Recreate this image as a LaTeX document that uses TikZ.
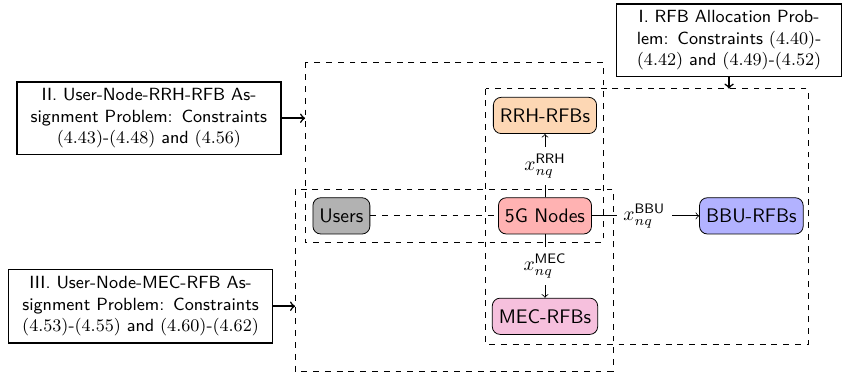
\documentclass[tikz,border=0pt]{standalone}
\renewcommand{\familydefault}{\sfdefault}
\definecolor{rrhcol}{HTML}{FDD7B4}
\definecolor{meccol}{HTML}{F6C0DD}
\begin{document}
\begin{tikzpicture}[
        block/.style={draw, rounded corners, minimum height=0.65cm},
        problem/.style={draw, thick, align=center, font=\small},
        region/.style={draw, dashed},
    ]
        \useasboundingbox (-9.77,-2.87) rectangle (5.45,3.87);

        % resources and users
        \node[block, fill=red!30]    (nodes) at ( 0,    0)   {5G Nodes};
        \node[block, fill=black!30]  (users) at (-3.65, 0)   {Users};
        \node[block, fill=rrhcol]    (rrh)   at ( 0,    1.8) {RRH-RFBs};
        \node[block, fill=meccol]    (mec)   at ( 0,   -1.8) {MEC-RFBs};
        \node[block, fill=blue!30]   (bbu)   at ( 3.7,  0)   {BBU-RFBs};

        \node (xrrh) at (0,     0.9) {$x_{nq}^{\mathsf{RRH}}$};
        \node (xmec) at (0,    -0.9) {$x_{nq}^{\mathsf{MEC}}$};
        \node (xbbu) at (1.78,  0)   {$x_{nq}^{\mathsf{BBU}}$};

        \draw        (nodes) -- (xrrh);
        \draw[->]    (xrrh)  -- (rrh);
        \draw        (nodes) -- (xmec);
        \draw[->]    (xmec)  -- (mec);
        \draw        (nodes) -- (xbbu);
        \draw[->]    (xbbu)  -- (bbu);
        \draw[dashed] (users) -- (nodes);

        % sub-problem regions
        \draw[region] (-4.30,  2.75) rectangle (1.04, -0.48);
        \draw[region] (-4.48,  0.48) rectangle (1.22, -2.78);
        \draw[region] (-1.06,  2.28) rectangle (4.72, -2.30);

        \node[problem, text width=3.8cm] (pi)   at ( 3.3,  3.15) {I. RFB Allocation Prob-\\lem: Constraints $(4.40)$-\\$(4.42)$ and $(4.49)$-$(4.52)$};
        \node[problem, text width=4.5cm] (pii)  at (-7.1,  1.75) {II. User-Node-RRH-RFB As-\\signment Problem: Constraints\\$(4.43)$-$(4.48)$ and $(4.56)$};
        \node[problem, text width=4.5cm] (piii) at (-7.25,-1.62) {III. User-Node-MEC-RFB As-\\signment Problem: Constraints\\$(4.53)$-$(4.55)$ and $(4.60)$-$(4.62)$};

        \coordinate (iend)   at ( 3.3,  2.28);
        \coordinate (iiend)  at (-4.30, 1.75);
        \coordinate (iiiend) at (-4.48,-1.62);

        \draw[thick,->] (pi)   -- (iend);
        \draw[thick,->] (pii)  -- (iiend);
        \draw[thick,->] (piii) -- (iiiend);
    \end{tikzpicture}
\end{document}
